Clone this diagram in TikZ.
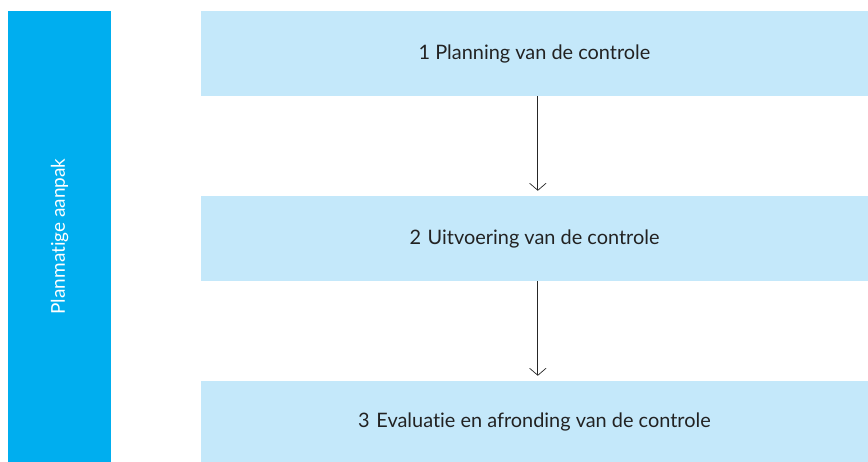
\documentclass[tikz,border=0pt]{standalone}
\usepackage{fontspec}
\setmainfont{Lato}[Ligatures=NoCommon]
\usetikzlibrary{arrows.meta}
\definecolor{balk}{HTML}{00AEEF}
\definecolor{vak}{HTML}{C4E8FA}
\definecolor{tekst}{HTML}{222222}
\tikzset{
 stap/.style={fill=vak,minimum width=20.01cm,minimum height=2.55cm,inner sep=0pt,text=tekst,font=\fontsize{17}{20}\selectfont},
 pijl/.style={->,>={Straight Barb[length=6pt,width=14pt]},semithick,shorten >=0.15cm,black!85}
}
\begin{document}
\begin{tikzpicture}
 \useasboundingbox (0,0) rectangle (26.04,-13.86); %rand
 \node[fill=balk,minimum width=3.09cm,minimum height=13.53cm,inner sep=0pt] (balk) at (1.785,-7.095) {}; %balk links
 \node[rotate=90,text=white,font=\fontsize{16.2}{19}\selectfont] (aanpak) at (balk) {Planmatige aanpak};
 \node[stap] (s1) at (16.035,-1.605) {1 Planning van de controle}; %stap 1
 \node[stap] (s2) at (16.035,-7.155) {2\,\,Uitvoering van de controle}; %stap 2
 \node[stap,minimum height=2.43cm] (s3) at (16.035,-12.645) {3\,\,Evaluatie en afronding van de controle}; %stap 3
 \draw[pijl] ([xshift=0.1cm]s1.south)--([xshift=0.1cm]s2.north);
 \draw[pijl] ([xshift=0.1cm]s2.south)--([xshift=0.1cm]s3.north);
\end{tikzpicture}
\end{document}
